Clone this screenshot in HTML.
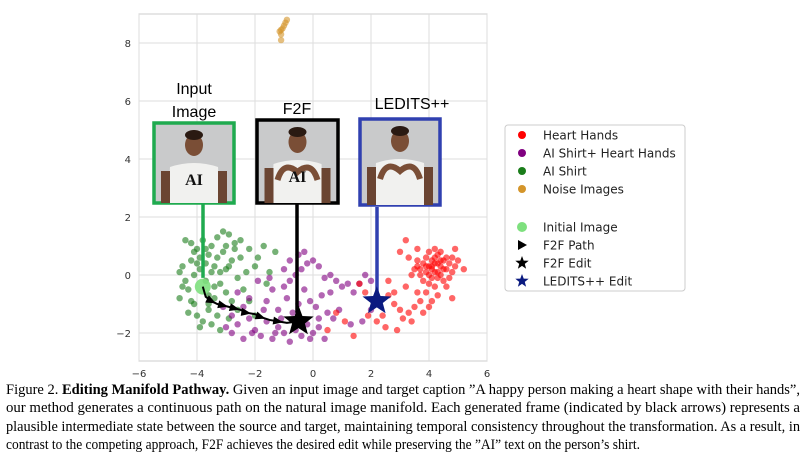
<!DOCTYPE html>
<html><head><meta charset="utf-8"><style>
body{margin:0;background:#fff;width:806px;height:466px;overflow:hidden;position:relative}
svg{position:absolute;left:0;top:0}
#caption{position:absolute;left:6px;top:381px;width:794px;font-family:"Liberation Serif",serif;font-size:14.5px;line-height:18.3px;color:#000}
.ln{white-space:nowrap;transform-origin:0 50%;display:block;width:max-content}
</style></head><body>
<svg id="chart" width="806" height="380"></svg>
<div id="caption">
<span class="ln">Figure 2. <b>Editing Manifold Pathway.</b> Given an input image and target caption ”A happy person making a heart shape with their hands”,</span>
<span class="ln">our method generates a continuous path on the natural image manifold.  Each generated frame (indicated by black arrows) represents a</span>
<span class="ln">plausible intermediate state between the source and target, maintaining temporal consistency throughout the transformation.  As a result, in</span>
<span class="ln">contrast to the competing approach, F2F achieves the desired edit while preserving the ”AI” text on the person’s shirt.</span>
</div>
<script>
const xTicks=[-6,-4,-2,0,2,4,6];
const yTicks=[-2,0,2,4,6,8];
const greenPts=[[-4.6,0.1],[-4.4,1.2],[-4.2,1.1],[-4.0,0.9],[-3.9,0.6],[-3.7,0.4],[-3.5,1.0],[-3.3,1.3],[-3.1,1.5],[-2.9,1.4],[-2.7,1.1],[-2.5,0.6],[-2.2,0.9],[-2.0,0.3],[-1.7,1.0],[-1.5,0.1],[-4.5,0.3],[-4.3,-0.5],[-4.1,-1.0],[-4.0,-1.4],[-3.8,-1.6],[-3.6,-1.2],[-3.4,-0.8],[-3.2,-0.3],[-3.0,0.2],[-2.8,0.5],[-2.6,-0.1],[-2.4,-0.5],[-2.2,-0.9],[-2.0,-1.4],[-3.9,0.2],[-3.7,-0.2],[-3.5,0.1],[-3.3,0.6],[-3.1,0.8],[-3.0,-0.6],[-4.2,0.5],[-4.4,-0.2],[-4.6,-0.8],[-4.3,-1.3],[-3.9,-1.8],[-3.5,-1.7],[-3.2,-1.9],[-2.9,-1.5],[-2.6,-1.2],[-2.3,0.1],[-1.9,0.6],[-1.6,-0.3],[-3.6,0.7],[-3.4,0.3],[-2.7,0.9],[-4.1,0.0],[-3.8,1.2],[-2.5,1.2],[-1.3,0.8],[-3.3,-1.4],[-4.0,0.4],[-2.8,-0.9],[-3.6,-0.7],[-4.5,-0.4],[-3.7,0.9],[-3.2,0.1],[-2.9,0.3],[-4.2,-0.9],[-3.4,-0.4],[-3.0,1.0],[-4.1,0.8],[-3.6,-1.0]];
const purplePts=[[-3.0,-1.8],[-2.8,-2.0],[-2.6,-1.7],[-2.4,-2.2],[-2.2,-1.5],[-2.0,-1.9],[-1.8,-2.1],[-1.6,-1.6],[-1.4,-2.2],[-1.2,-1.8],[-1.0,-2.0],[-0.8,-2.3],[-0.6,-1.9],[-0.4,-2.1],[-0.2,-1.7],[0.0,-2.0],[0.2,-1.8],[0.4,-2.2],[-1.6,-0.9],[-1.4,-0.5],[-1.2,-1.2],[-1.0,-0.4],[-0.8,-0.2],[-0.6,0.0],[-0.4,0.2],[-0.2,0.4],[0.0,0.5],[0.2,0.3],[0.4,-0.1],[0.6,0.0],[0.8,-0.2],[1.0,-0.4],[1.2,-0.3],[1.4,-0.6],[1.6,-0.3],[1.8,0.0],[2.0,-0.2],[-0.8,0.5],[-0.5,0.7],[-0.3,-0.5],[-0.1,-0.9],[0.1,-1.1],[0.3,-0.7],[0.5,-1.3],[0.7,-1.5],[0.9,-1.2],[-1.9,-0.2],[-1.7,-1.2],[-2.2,-0.8],[-2.4,-1.1],[-1.1,-1.5],[-0.9,-0.8],[-0.7,-1.3],[-0.5,-1.0],[-2.8,-1.4],[-3.1,-1.1],[-1.3,-2.0],[0.2,-1.5],[-0.3,0.8],[-1.5,-0.1],[-2.6,-0.6],[1.3,-1.7],[1.7,-1.6],[2.0,-1.2],[-0.1,-2.2],[0.6,-0.6],[-1.0,0.2],[-2.1,-2.0]];
const redPts=[[4.0,0.3],[4.1,0.2],[4.2,0.4],[4.3,0.1],[4.4,0.3],[4.5,0.5],[3.9,0.1],[3.8,0.4],[4.0,0.0],[4.2,0.6],[4.3,-0.1],[4.6,0.2],[4.7,0.4],[3.7,0.2],[4.1,0.5],[4.4,0.0],[4.5,-0.2],[3.9,0.6],[4.0,-0.3],[4.2,0.1],[4.3,0.7],[4.8,0.1],[3.6,0.5],[4.1,-0.1],[4.6,0.6],[4.4,0.8],[3.5,0.2],[4.9,0.3],[5.0,0.5],[5.2,0.2],[3.4,0.0],[3.3,0.6],[4.0,0.8],[4.2,-0.4],[4.6,-0.4],[3.8,-0.2],[4.1,0.3],[4.3,0.4],[3.9,0.3],[4.5,0.2],[3.0,0.8],[3.2,1.2],[3.6,0.9],[3.9,-0.6],[3.7,-0.9],[3.5,-1.1],[3.3,-1.3],[3.0,-1.2],[2.8,-1.0],[3.1,-1.5],[2.9,-1.9],[3.4,-1.6],[3.8,-1.3],[4.1,-0.9],[4.3,-0.7],[2.6,-0.7],[2.4,-1.4],[2.2,-1.6],[1.9,-1.4],[1.6,-0.3],[1.8,-0.6],[2.6,-0.2],[2.8,-0.6],[3.2,-0.4],[1.1,-1.6],[1.4,-2.1],[0.5,-1.9],[0.8,-1.3],[2.5,-1.8],[3.6,-0.6],[4.8,-0.8],[4.9,0.9],[4.0,-1.1],[3.7,0.0],[4.7,-0.1],[4.4,0.5],[3.6,0.3],[4.8,0.6],[4.2,0.9]];
const noisePts=[[-1.1,8.1],[-1.1,8.3],[-1.15,8.4],[-1.05,8.5],[-1.0,8.6],[-0.95,8.7],[-0.9,8.8],[-1.1,8.45]];
const pathPts=[[-3.8,-0.4],[-3.7,-0.75],[-3.5,-0.9],[-3.3,-1.0],[-3.1,-1.05],[-2.9,-1.1],[-2.7,-1.15],[-2.5,-1.2],[-2.3,-1.3],[-2.0,-1.35],[-1.8,-1.45],[-1.5,-1.55],[-1.2,-1.6],[-0.9,-1.65],[-0.5,-1.6]];
const initialPt=[-3.8,-0.4];
const f2fPt=[-0.5,-1.6];
const leditsPt=[2.2,-0.9];

const NS='http://www.w3.org/2000/svg';
const svg=document.getElementById('chart');
const X=v=>313+v*29, Y=v=>275-v*29;
function mk(tag,a,parent){const e=document.createElementNS(NS,tag);for(const k in a)e.setAttribute(k,a[k]);(parent||svg).appendChild(e);return e;}
let f=mk('rect',{x:139,y:14,width:348,height:347,fill:'#fff',stroke:'#ccc','stroke-width':1});


xTicks.forEach(t=>{const l=mk('line',{x1:X(t),x2:X(t),y1:14,y2:361,stroke:'#ddd'});


const tx=mk('text',{x:X(t),y:377,'text-anchor':'middle','font-family':'DejaVu Sans,sans-serif','font-size':10,fill:'#333'});tx.textContent=(t<0?'−'+(-t):t);

});
yTicks.forEach(t=>{const l=mk('line',{x1:139,x2:487,y1:Y(t),y2:Y(t),stroke:'#ddd'});


const tx=mk('text',{x:131,y:Y(t)+4,'text-anchor':'end','font-family':'DejaVu Sans,sans-serif','font-size':10,fill:'#333'});tx.textContent=(t<0?'−'+(-t):t);

});
function scatter(pts,col,name){pts.forEach(p=>{const c=mk('circle',{cx:X(p[0]),cy:Y(p[1]),r:3.2,fill:col,'fill-opacity':0.6});

});}
scatter(greenPts,'#1a7d1a','ai-shirt-point');
scatter(purplePts,'#800080','ai-shirt-heart-point');
scatter(redPts,'#ff0000','heart-hands-point');
scatter(noisePts,'#d4952a','noise-image-point');
[[203,203,X(-3.8),Y(-0.1),'#1faa4f'],[297,204,X(-0.5),Y(-1.3),'#000'],[377,207,X(2.2),Y(-0.6),'#3040b0']].forEach(c=>{const l=mk('line',{x1:c[0],y1:c[1],x2:c[0],y2:c[3],stroke:c[4],'stroke-width':3.5});

});
let ic=mk('circle',{cx:X(initialPt[0]),cy:Y(initialPt[1]),r:8,fill:'#7ee07e','fill-opacity':0.9});


let pl=mk('polyline',{points:pathPts.map(p=>X(p[0])+','+Y(p[1])).join(' '),fill:'none',stroke:'#000','stroke-width':2});


for(let i=2;i<pathPts.length-1;i+=2){const a=pathPts[i],b=pathPts[i+1];const ang=Math.atan2(Y(b[1])-Y(a[1]),X(b[0])-X(a[0]))*180/Math.PI;
const t=mk('polygon',{points:'-5,-4 5,0 -5,4',fill:'#000',transform:`translate(${X(a[0])},${Y(a[1])}) rotate(${ang})`});

}
function star(cx,cy,R,col){const p=[];for(let i=0;i<10;i++){const r=i%2?R*0.42:R;const a=-Math.PI/2+i*Math.PI/5;p.push((cx+r*Math.cos(a)).toFixed(1)+','+(cy+r*Math.sin(a)).toFixed(1));}return mk('polygon',{points:p.join(' '),fill:col});}
let s1=star(X(f2fPt[0]),Y(f2fPt[1]),16,'#000');


let s2=star(X(leditsPt[0]),Y(leditsPt[1]),15,'#0a1a80');


function photo(x,y,w,h,col,ai,heart,name){const g=mk('g',{});


mk('rect',{x:x,y:y,width:w,height:h,fill:'#c9cacb',stroke:col,'stroke-width':3.5},g);
const cx=x+w/2;
mk('path',{d:`M${cx-26},${y+h} L${cx-24},${y+44} Q${cx},${y+36} ${cx+24},${y+44} L${cx+26},${y+h} Z`,fill:'#f1f1ef'},g);
mk('rect',{x:cx-33,y:y+48,width:9,height:h-48,fill:'#6b4532'},g);
mk('rect',{x:cx+24,y:y+48,width:9,height:h-48,fill:'#6b4532'},g);
mk('ellipse',{cx:cx,cy:y+22,rx:9,ry:11,fill:'#7a4e36'},g);
mk('ellipse',{cx:cx,cy:y+12,rx:9,ry:5,fill:'#2a1a12'},g);
if(heart)mk('path',{d:`M${cx-20},${y+60} Q${cx-14},${y+40} ${cx},${y+52} Q${cx+14},${y+40} ${cx+20},${y+60}`,fill:'none',stroke:'#7a4e36','stroke-width':6},g);
if(ai){const t=mk('text',{x:cx,y:y+62,'text-anchor':'middle','font-family':'Liberation Serif,serif','font-size':16,'font-weight':'bold',fill:'#111'},g);t.textContent='AI';}}
photo(154,123,80,80,'#1faa4f',true,false,'input-image-photo');
photo(257,120,81,83,'#000',true,true,'f2f-photo');
photo(360,119,80,86,'#3040b0',false,true,'ledits-photo');
[['Input',194,94],['Image',194,117],['F2F',297,114],['LEDITS++',412,109]].forEach(a=>{const t=mk('text',{x:a[1],y:a[2],'text-anchor':'middle','font-family':'Liberation Sans,sans-serif','font-size':16,fill:'#000'});t.textContent=a[0];

});
const lg=mk('g',{});


mk('rect',{x:505,y:125,width:180,height:166,fill:'#fff',stroke:'#ccc',rx:3},lg);
const legLabels=['Heart Hands','AI Shirt+ Heart Hands','AI Shirt','Noise Images','Initial Image','F2F Path','F2F Edit','LEDITS++ Edit'];
const legY=[135,153,171,189,227,245,263,281];
const legCols=['#ff0000','#800080','#1a7d1a','#d4952a','#7ee07e','#000','#000','#0a1a80'];
legLabels.forEach((lab,i)=>{const y=legY[i];let m;
if(i<5)m=mk('circle',{cx:522,cy:y,r:i==4?5:4,fill:legCols[i]},lg);
else if(i==5)m=mk('polygon',{points:`518,${y-5} 527,${y} 518,${y+5}`,fill:'#000'},lg);
else {m=star(522,y,7,legCols[i]);lg.appendChild(m);}


const t=mk('text',{x:543,y:y+4.5,'font-family':'DejaVu Sans,sans-serif','font-size':12,fill:'#222'},lg);t.textContent=lab;

});
const lns=[...document.querySelectorAll('.ln')];
lns.forEach((l,i)=>{


const w=l.getBoundingClientRect().width;
const s=(i<3)?794/w:634/w;
l.style.transform='scaleX('+s+')';});
</script>
</body></html>
